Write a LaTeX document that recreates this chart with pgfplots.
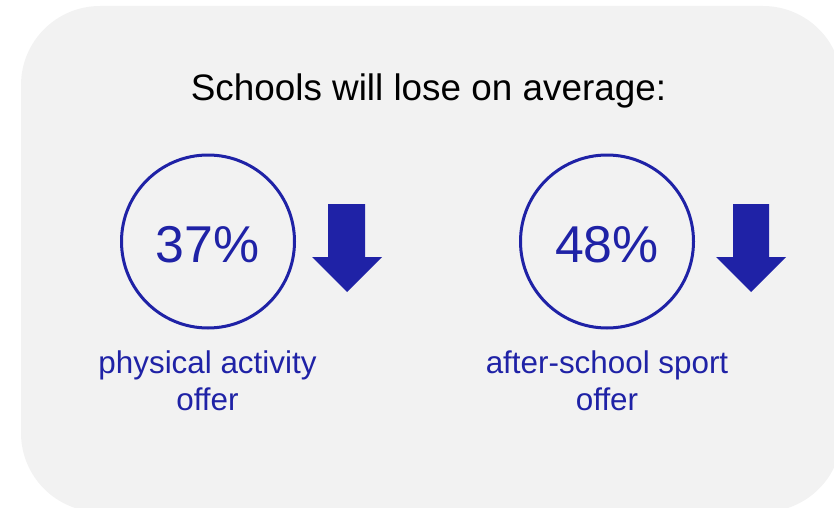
\documentclass[border=0pt]{standalone}
\usepackage{pgfplots}
\pgfplotsset{compat=1.18}
\usepackage{fontspec}
\setmainfont{Liberation Sans}
\definecolor{bg}{HTML}{F2F2F2}
\definecolor{navy}{HTML}{1F22A6}
\begin{document}
\begin{tikzpicture}
\begin{axis}[
  width=834bp, height=508bp, scale only axis,
  xmin=0, xmax=834, ymin=0, ymax=508, y dir=reverse,
  axis lines=none, clip=false,
]
% background panel
\fill[bg, rounded corners=79bp] (axis cs:21,6) rectangle (axis cs:842,512);
% arrows
\addplot[fill=navy, draw=none] coordinates {(328,204) (365,204) (365,257) (382,257) (347,292) (312,257) (328,257)} -- cycle;
\addplot[fill=navy, draw=none] coordinates {(733,204) (769,204) (769,257) (786,257) (751,292) (716,257) (733,257)} -- cycle;
% circles
\addplot[only marks, mark=o, mark size=86.5bp, mark options={draw=navy, line width=3bp}] coordinates {(208,241.5) (607,241.5)};
% texts
\node[anchor=base, font=\fontsize{37}{40}\selectfont] at (axis cs:428.5,100) {Schools will lose on average:};
\node[anchor=base, text=navy, font=\fontsize{52}{56}\selectfont] at (axis cs:207.5,262) {37\%};
\node[anchor=base, text=navy, font=\fontsize{52}{56}\selectfont] at (axis cs:607,262) {48\%};
\node[anchor=base, text=navy, font=\fontsize{31.5}{34}\selectfont] at (axis cs:207.5,373) {physical activity};
\node[anchor=base, text=navy, font=\fontsize{31.5}{34}\selectfont] at (axis cs:207.5,410) {offer};
\node[anchor=base, text=navy, font=\fontsize{31.5}{34}\selectfont] at (axis cs:607,373) {after-school sport};
\node[anchor=base, text=navy, font=\fontsize{31.5}{34}\selectfont] at (axis cs:607,410) {offer};
\end{axis}
\pgfresetboundingbox
\path (current axis.south west) rectangle (current axis.north east);
\end{tikzpicture}
\end{document}
